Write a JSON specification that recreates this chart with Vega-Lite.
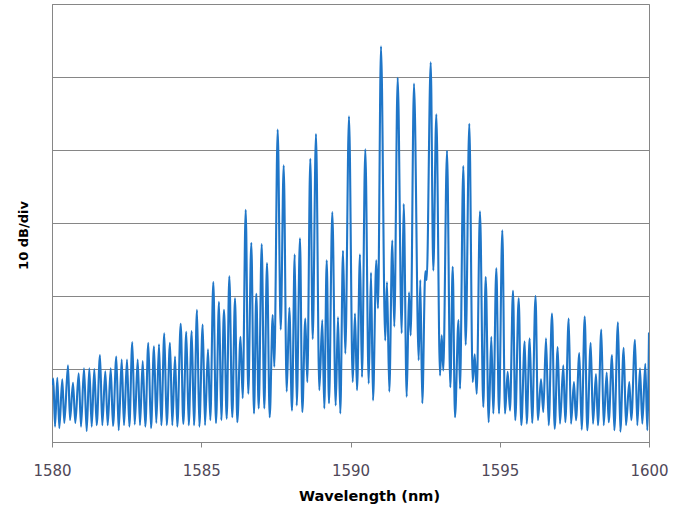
{
  "$schema": "https://vega.github.io/schema/vega-lite/v6.json",
  "width": 597,
  "height": 438,
  "autosize": "none",
  "padding": {"left": 52, "top": 4, "right": 36, "bottom": 64},
  "background": "white",
  "config": {
    "view": {"stroke": "#868686", "strokeWidth": 1},
    "font": "DejaVu Sans"
  },
  "data": {
    "values": [
      {"wl": 1580.000, "p": 7.8}, {"wl": 1580.044, "p": 8.7}, {"wl": 1580.101, "p": 2.1}, {"wl": 1580.178, "p": 8.8},
      {"wl": 1580.245, "p": 1.9}, {"wl": 1580.345, "p": 8.6}, {"wl": 1580.412, "p": 2.6}, {"wl": 1580.536, "p": 10.5},
      {"wl": 1580.603, "p": 3.0}, {"wl": 1580.704, "p": 8.1}, {"wl": 1580.781, "p": 2.6}, {"wl": 1580.894, "p": 9.4},
      {"wl": 1580.972, "p": 2.1}, {"wl": 1581.072, "p": 10.1}, {"wl": 1581.162, "p": 1.5}, {"wl": 1581.250, "p": 10.1},
      {"wl": 1581.330, "p": 2.1}, {"wl": 1581.417, "p": 10.0}, {"wl": 1581.497, "p": 2.3}, {"wl": 1581.608, "p": 11.9},
      {"wl": 1581.685, "p": 2.3}, {"wl": 1581.786, "p": 9.7}, {"wl": 1581.866, "p": 2.3}, {"wl": 1581.967, "p": 10.1},
      {"wl": 1582.044, "p": 2.2}, {"wl": 1582.154, "p": 11.7}, {"wl": 1582.234, "p": 1.6}, {"wl": 1582.335, "p": 11.3},
      {"wl": 1582.412, "p": 2.3}, {"wl": 1582.513, "p": 11.3}, {"wl": 1582.590, "p": 2.1}, {"wl": 1582.690, "p": 13.7},
      {"wl": 1582.771, "p": 2.4}, {"wl": 1582.871, "p": 11.3}, {"wl": 1582.948, "p": 2.3}, {"wl": 1583.039, "p": 11.1},
      {"wl": 1583.126, "p": 2.1}, {"wl": 1583.226, "p": 13.6}, {"wl": 1583.317, "p": 1.9}, {"wl": 1583.417, "p": 13.1},
      {"wl": 1583.494, "p": 2.6}, {"wl": 1583.585, "p": 13.4}, {"wl": 1583.662, "p": 2.3}, {"wl": 1583.762, "p": 14.9},
      {"wl": 1583.843, "p": 2.3}, {"wl": 1583.953, "p": 13.6}, {"wl": 1584.030, "p": 2.3}, {"wl": 1584.121, "p": 11.7},
      {"wl": 1584.198, "p": 2.1}, {"wl": 1584.312, "p": 16.2}, {"wl": 1584.399, "p": 2.5}, {"wl": 1584.499, "p": 15.1},
      {"wl": 1584.580, "p": 2.3}, {"wl": 1584.680, "p": 15.2}, {"wl": 1584.757, "p": 2.3}, {"wl": 1584.858, "p": 18.1},
      {"wl": 1584.935, "p": 2.1}, {"wl": 1585.049, "p": 16.1}, {"wl": 1585.126, "p": 2.3}, {"wl": 1585.226, "p": 12.7},
      {"wl": 1585.303, "p": 3.0}, {"wl": 1585.404, "p": 21.9}, {"wl": 1585.494, "p": 2.6}, {"wl": 1585.595, "p": 19.2},
      {"wl": 1585.672, "p": 3.0}, {"wl": 1585.762, "p": 18.1}, {"wl": 1585.853, "p": 3.2}, {"wl": 1585.940, "p": 22.7},
      {"wl": 1586.040, "p": 3.4}, {"wl": 1586.131, "p": 19.7}, {"wl": 1586.208, "p": 2.7}, {"wl": 1586.315, "p": 14.4},
      {"wl": 1586.389, "p": 6.0}, {"wl": 1586.489, "p": 31.8}, {"wl": 1586.576, "p": 6.6}, {"wl": 1586.677, "p": 27.3},
      {"wl": 1586.767, "p": 3.9}, {"wl": 1586.844, "p": 20.3}, {"wl": 1586.925, "p": 4.6}, {"wl": 1587.025, "p": 27.1},
      {"wl": 1587.112, "p": 4.6}, {"wl": 1587.203, "p": 24.5}, {"wl": 1587.293, "p": 3.4}, {"wl": 1587.394, "p": 17.4},
      {"wl": 1587.447, "p": 10.3}, {"wl": 1587.561, "p": 42.8}, {"wl": 1587.662, "p": 15.4}, {"wl": 1587.762, "p": 37.9},
      {"wl": 1587.863, "p": 6.9}, {"wl": 1587.950, "p": 18.4}, {"wl": 1588.040, "p": 4.3}, {"wl": 1588.131, "p": 25.7},
      {"wl": 1588.198, "p": 5.0}, {"wl": 1588.308, "p": 27.9}, {"wl": 1588.385, "p": 4.1}, {"wl": 1588.486, "p": 16.9},
      {"wl": 1588.553, "p": 8.2}, {"wl": 1588.653, "p": 38.8}, {"wl": 1588.734, "p": 14.1}, {"wl": 1588.844, "p": 42.2},
      {"wl": 1588.955, "p": 7.1}, {"wl": 1589.055, "p": 16.7}, {"wl": 1589.122, "p": 4.6}, {"wl": 1589.203, "p": 24.9},
      {"wl": 1589.280, "p": 5.3}, {"wl": 1589.390, "p": 31.5}, {"wl": 1589.504, "p": 5.0}, {"wl": 1589.581, "p": 17.1},
      {"wl": 1589.658, "p": 3.9}, {"wl": 1589.749, "p": 26.2}, {"wl": 1589.826, "p": 12.1}, {"wl": 1589.950, "p": 44.6},
      {"wl": 1590.074, "p": 8.2}, {"wl": 1590.151, "p": 17.6}, {"wl": 1590.218, "p": 7.1}, {"wl": 1590.318, "p": 25.7},
      {"wl": 1590.385, "p": 8.9}, {"wl": 1590.496, "p": 40.1}, {"wl": 1590.610, "p": 8.0}, {"wl": 1590.687, "p": 23.2},
      {"wl": 1590.754, "p": 5.7}, {"wl": 1590.864, "p": 24.9}, {"wl": 1590.921, "p": 18.3}, {"wl": 1591.022, "p": 54.2},
      {"wl": 1591.163, "p": 13.9}, {"wl": 1591.223, "p": 21.9}, {"wl": 1591.300, "p": 6.9}, {"wl": 1591.400, "p": 27.6},
      {"wl": 1591.467, "p": 15.8}, {"wl": 1591.581, "p": 49.9}, {"wl": 1591.715, "p": 14.9}, {"wl": 1591.782, "p": 32.6},
      {"wl": 1591.883, "p": 6.2}, {"wl": 1591.960, "p": 20.5}, {"wl": 1592.017, "p": 14.6}, {"wl": 1592.127, "p": 49.1},
      {"wl": 1592.285, "p": 11.2}, {"wl": 1592.338, "p": 22.2}, {"wl": 1592.405, "p": 5.3}, {"wl": 1592.506, "p": 23.4},
      {"wl": 1592.553, "p": 22.2}, {"wl": 1592.687, "p": 52.0}, {"wl": 1592.774, "p": 23.5}, {"wl": 1592.875, "p": 44.9},
      {"wl": 1592.999, "p": 9.1}, {"wl": 1593.056, "p": 14.6}, {"wl": 1593.109, "p": 9.8}, {"wl": 1593.233, "p": 39.9},
      {"wl": 1593.344, "p": 7.5}, {"wl": 1593.424, "p": 24.0}, {"wl": 1593.501, "p": 3.4}, {"wl": 1593.618, "p": 16.7},
      {"wl": 1593.669, "p": 7.3}, {"wl": 1593.779, "p": 37.8}, {"wl": 1593.859, "p": 13.3}, {"wl": 1593.980, "p": 43.6},
      {"wl": 1594.094, "p": 8.2}, {"wl": 1594.161, "p": 12.0}, {"wl": 1594.228, "p": 6.6}, {"wl": 1594.338, "p": 31.6},
      {"wl": 1594.449, "p": 4.8}, {"wl": 1594.529, "p": 22.6}, {"wl": 1594.630, "p": 2.7}, {"wl": 1594.717, "p": 14.4},
      {"wl": 1594.784, "p": 3.9}, {"wl": 1594.885, "p": 23.8}, {"wl": 1594.975, "p": 3.9}, {"wl": 1595.086, "p": 29.0},
      {"wl": 1595.176, "p": 3.9}, {"wl": 1595.266, "p": 9.6}, {"wl": 1595.343, "p": 4.3}, {"wl": 1595.444, "p": 20.7},
      {"wl": 1595.521, "p": 3.0}, {"wl": 1595.635, "p": 19.7}, {"wl": 1595.722, "p": 2.3}, {"wl": 1595.836, "p": 13.8},
      {"wl": 1595.903, "p": 2.5}, {"wl": 1596.003, "p": 14.2}, {"wl": 1596.087, "p": 2.6}, {"wl": 1596.198, "p": 20.0},
      {"wl": 1596.281, "p": 3.0}, {"wl": 1596.382, "p": 8.6}, {"wl": 1596.459, "p": 4.1}, {"wl": 1596.549, "p": 14.2},
      {"wl": 1596.640, "p": 2.3}, {"wl": 1596.750, "p": 17.6}, {"wl": 1596.841, "p": 1.8}, {"wl": 1596.941, "p": 13.0},
      {"wl": 1597.018, "p": 2.5}, {"wl": 1597.129, "p": 10.5}, {"wl": 1597.196, "p": 2.7}, {"wl": 1597.310, "p": 16.9},
      {"wl": 1597.387, "p": 2.5}, {"wl": 1597.487, "p": 8.2}, {"wl": 1597.554, "p": 3.0}, {"wl": 1597.665, "p": 12.2},
      {"wl": 1597.745, "p": 1.7}, {"wl": 1597.846, "p": 17.2}, {"wl": 1597.933, "p": 1.6}, {"wl": 1598.047, "p": 13.6},
      {"wl": 1598.124, "p": 2.5}, {"wl": 1598.224, "p": 9.3}, {"wl": 1598.291, "p": 2.3}, {"wl": 1598.402, "p": 15.4},
      {"wl": 1598.482, "p": 2.3}, {"wl": 1598.583, "p": 9.5}, {"wl": 1598.650, "p": 2.7}, {"wl": 1598.761, "p": 11.9},
      {"wl": 1598.838, "p": 1.6}, {"wl": 1598.961, "p": 16.4}, {"wl": 1599.039, "p": 1.4}, {"wl": 1599.152, "p": 12.9},
      {"wl": 1599.229, "p": 2.3}, {"wl": 1599.340, "p": 8.2}, {"wl": 1599.407, "p": 3.0}, {"wl": 1599.531, "p": 14.0},
      {"wl": 1599.608, "p": 2.3}, {"wl": 1599.698, "p": 10.1}, {"wl": 1599.776, "p": 2.5}, {"wl": 1599.876, "p": 10.7},
      {"wl": 1599.943, "p": 1.6}, {"wl": 1600.000, "p": 15.0}
    ]
  },
  "mark": {"type": "line", "color": "#1f76c8", "strokeWidth": 2.1, "interpolate": "monotone", "strokeJoin": "round", "clip": true},
  "encoding": {
    "x": {
      "field": "wl",
      "type": "quantitative",
      "scale": {"domain": [1580, 1600], "nice": false, "zero": false},
      "axis": {
        "title": "Wavelength (nm)",
        "values": [1580, 1585, 1590, 1595, 1600],
        "format": "d",
        "grid": false,
        "domainColor": "#868686",
        "tickColor": "#868686",
        "tickSize": 5,
        "labelFont": "DejaVu Sans",
        "labelFontSize": 15,
        "labelColor": "#4f4858",
        "labelPadding": 16,
        "labelFlush": false,
        "titleFont": "DejaVu Sans",
        "titleFontSize": 14.5,
        "titleFontWeight": "bold",
        "titleColor": "#000000",
        "titlePadding": 11,
        "titleX": 317
      }
    },
    "y": {
      "field": "p",
      "type": "quantitative",
      "scale": {"domain": [0, 60], "nice": false},
      "axis": {
        "title": "10 dB/div",
        "values": [0, 10, 20, 30, 40, 50, 60],
        "labels": false,
        "ticks": false,
        "domainColor": "#868686",
        "gridColor": "#868686",
        "gridOpacity": 1,
        "gridWidth": 1,
        "titleFont": "DejaVu Sans",
        "titleFontSize": 13,
        "titleFontWeight": "bold",
        "titleColor": "#000000",
        "titleX": -29,
        "titleY": 231,
        "titleAngle": 270,
        "titleAlign": "center",
        "titleBaseline": "middle"
      }
    }
  }
}
